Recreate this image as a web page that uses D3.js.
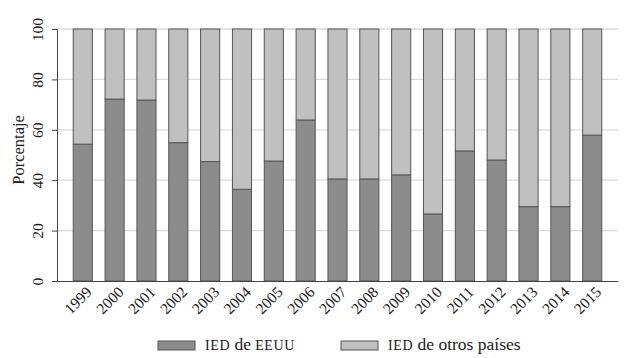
<!DOCTYPE html>
<html>
<head>
<meta charset="utf-8">
<script src="https://cdn.jsdelivr.net/npm/d3@7"></script>
<style>
  body { margin: 0; background: #fff; }
  text { font-family: "Liberation Serif", "DejaVu Serif", serif; fill: #1a1a1a; }
</style>
</head>
<body>
<div id="chart"></div>
<script>
    var years = ["1999", "2000", "2001", "2002", "2003", "2004", "2005", "2006", "2007",
                 "2008", "2009", "2010", "2011", "2012", "2013", "2014", "2015"];
    // share of FDI from the US (%), the rest comes from other countries
    var iedEEUU = [54.3, 72.2, 71.8, 54.9, 47.4, 36.4, 47.6, 63.9, 40.5,
                   40.5, 42.1, 26.6, 51.6, 48.0, 29.5, 29.5, 57.9];
    var iedOtros = iedEEUU.map(function(v) { return 100 - v; });
    var yTicks = [0, 20, 40, 60, 80, 100];
    var seriesNames = ["IED de EEUU", "IED de otros países"];

    var svgWidth = 626;
    var svgHeight = 358;
    var margin = { top: 29, right: 8, bottom: 77, left: 57 };
    var width = svgWidth - margin.left - margin.right;
    var height = svgHeight - margin.top - margin.bottom;

    var darkFill = "#8c8c8c";
    var lightFill = "#c0c0c0";
    var edge = "#555";

    var svg = d3.select("#chart")
      .append("svg")
      .attr("width", svgWidth)
      .attr("height", svgHeight);

    var chartGroup = svg.append("g")
      .attr("transform", `translate(${margin.left}, ${margin.top})`);

    var xScale = d3.scaleBand()
      .domain(years)
      .range([0, width])
      .paddingInner(0.4)
      .paddingOuter(0.51);

    var yScale = d3.scaleLinear()
      .domain([0, 100])
      .range([height, 0]);

    // gridlines
    chartGroup.append("g")
      .selectAll("line")
      .data(yTicks.filter(d => d > 0))
      .enter()
      .append("line")
      .attr("x1", 0)
      .attr("x2", width)
      .attr("y1", d => yScale(d))
      .attr("y2", d => yScale(d))
      .attr("stroke", "#dcdcdc")
      .attr("stroke-width", 1.3);

    var rows = years.map(function(y, i) {
      return { year: y, eeuu: iedEEUU[i], otros: iedOtros[i] };
    });
    var stack = d3.stack().keys(["eeuu", "otros"])(rows);
    var fills = [darkFill, lightFill];

    chartGroup.selectAll("g.layer")
      .data(stack)
      .enter()
      .append("g")
      .attr("class", "layer")
      .attr("fill", (d, i) => fills[i])
      .selectAll("rect")
      .data(d => d)
      .enter()
      .append("rect")
      .attr("x", d => xScale(d.data.year))
      .attr("width", xScale.bandwidth())
      .attr("y", d => yScale(d[1]))
      .attr("height", d => yScale(d[0]) - yScale(d[1]))
      .attr("stroke", edge)
      .attr("stroke-width", 1);

    // y axis
    var leftAxis = d3.axisLeft(yScale).tickValues(yTicks).tickSize(5).tickFormat(d3.format("d"));
    var yAxisG = chartGroup.append("g").call(leftAxis);
    yAxisG.select(".domain").attr("stroke", "#444");
    yAxisG.selectAll(".tick line").attr("stroke", "#444");
    yAxisG.selectAll(".tick text")
      .attr("font-size", 15.5)
      .attr("x", 0)
      .attr("dy", 0)
      .attr("text-anchor", "middle")
      .attr("transform", "translate(-14, 0) rotate(-90)");

    // x axis
    var bottomAxis = d3.axisBottom(xScale).tickSize(0);
    var xAxisG = chartGroup.append("g")
      .attr("transform", `translate(0, ${height})`)
      .call(bottomAxis);
    xAxisG.select(".domain").attr("stroke", "#444");
    xAxisG.selectAll(".tick text")
      .attr("font-size", 15.5)
      .attr("text-anchor", "end")
      .attr("y", 0)
      .attr("dy", 0)
      .attr("transform", "translate(10, 12) rotate(-45)");

    // axis title
    svg.append("text")
      .attr("transform", `translate(24, ${margin.top + height * 0.48}) rotate(-90)`)
      .attr("text-anchor", "middle")
      .attr("font-size", 16.5)
      .text("Porcentaje");

    // legend
    var legendX = [158, 341];
    var legend = svg.append("g");
    seriesNames.forEach(function(name, i) {
      legend.append("rect")
        .attr("x", legendX[i])
        .attr("y", 341)
        .attr("width", 37)
        .attr("height", 9)
        .attr("fill", fills[i])
        .attr("stroke", edge);
      var t = legend.append("text")
        .attr("x", legendX[i] + 47)
        .attr("y", 350)
        .attr("font-size", 17.5);
      // small caps for the acronyms
      name.split(" ").forEach(function(w, j) {
        var caps = w === w.toUpperCase() && /[A-Z]/.test(w);
        t.append("tspan")
          .attr("font-size", caps ? 14 : 17.5)
          .attr("letter-spacing", caps ? 0.6 : 0)
          .text((j > 0 ? " " : "") + w);
      });
    });
</script>
</body>
</html>
